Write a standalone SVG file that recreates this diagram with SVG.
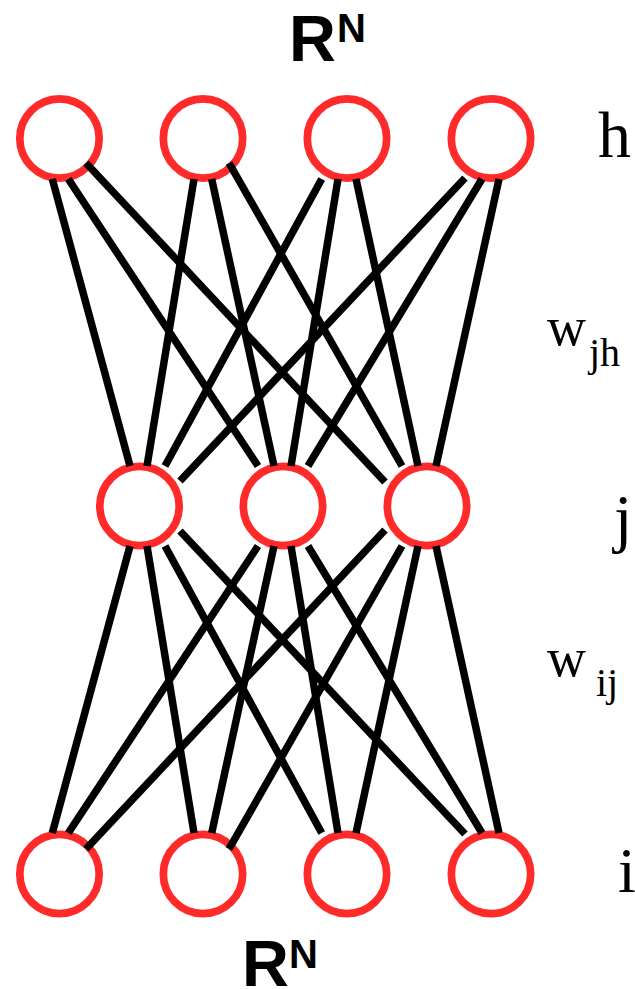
<svg xmlns="http://www.w3.org/2000/svg" width="635" height="989" viewBox="0 0 635 989">
<style>
.node{fill:#ffffff;stroke:#ff2b2b;stroke-width:7.7}
.edge{stroke:#000000;stroke-width:7.5;stroke-linecap:butt;fill:none}
.rn{font-family:"Liberation Sans",Arial,sans-serif;font-weight:bold;fill:#000}
.lbl{font-family:"Liberation Serif","Times New Roman",serif;fill:#000}
</style>
<rect width="635" height="989" fill="#ffffff"/>
<g id="title-top"><text class="rn" x="289" y="61" font-size="65">R</text><text class="rn" x="337" y="42" font-size="40">N</text></g>
<g id="title-bottom"><text class="rn" x="242" y="986" font-size="65">R</text><text class="rn" x="289" y="968" font-size="40">N</text></g>
<g id="h1"><circle class="node" cx="59.5" cy="138.5" r="39.7"/></g>
<g id="h2"><circle class="node" cx="203" cy="138.5" r="39.7"/></g>
<g id="h3"><circle class="node" cx="347" cy="138.5" r="39.7"/></g>
<g id="h4"><circle class="node" cx="491" cy="138.5" r="39.7"/></g>
<g id="j1"><circle class="node" cx="139.5" cy="506" r="39.7"/></g>
<g id="j2"><circle class="node" cx="283" cy="506" r="39.7"/></g>
<g id="j3"><circle class="node" cx="427" cy="506" r="39.7"/></g>
<g id="i1"><circle class="node" cx="59.5" cy="874" r="39.7"/></g>
<g id="i2"><circle class="node" cx="203" cy="874" r="39.7"/></g>
<g id="i3"><circle class="node" cx="347" cy="874" r="39.7"/></g>
<g id="i4"><circle class="node" cx="491" cy="874" r="39.7"/></g>
<g id="connectors">
<line class="edge" x1="52.3" y1="179" x2="130" y2="466"/>
<line class="edge" x1="68.3" y1="179" x2="258" y2="466"/>
<line class="edge" x1="86" y1="163" x2="385" y2="482"/>
<line class="edge" x1="194" y1="179" x2="147" y2="466"/>
<line class="edge" x1="211.7" y1="179" x2="274" y2="466"/>
<line class="edge" x1="229" y1="163" x2="402" y2="466"/>
<line class="edge" x1="321.7" y1="179" x2="165" y2="466"/>
<line class="edge" x1="338" y1="179" x2="291" y2="466"/>
<line class="edge" x1="356" y1="179" x2="418" y2="466"/>
<line class="edge" x1="465" y1="178" x2="180" y2="481"/>
<line class="edge" x1="482" y1="179" x2="308" y2="466"/>
<line class="edge" x1="499" y1="179" x2="436" y2="466"/>
<line class="edge" x1="52.3" y1="833" x2="130" y2="546"/>
<line class="edge" x1="68.3" y1="833" x2="258" y2="546"/>
<line class="edge" x1="86" y1="849" x2="385" y2="530"/>
<line class="edge" x1="194" y1="833" x2="147" y2="546"/>
<line class="edge" x1="211.7" y1="833" x2="274" y2="546"/>
<line class="edge" x1="229" y1="849" x2="402" y2="546"/>
<line class="edge" x1="321.7" y1="833" x2="165" y2="546"/>
<line class="edge" x1="338" y1="833" x2="291" y2="546"/>
<line class="edge" x1="356" y1="833" x2="418" y2="546"/>
<line class="edge" x1="465" y1="834" x2="180" y2="531"/>
<line class="edge" x1="482" y1="833" x2="308" y2="546"/>
<line class="edge" x1="499" y1="833" x2="436" y2="546"/>
</g>
<g id="label-h"><text class="lbl" x="598" y="157" font-size="66">h</text></g>
<g id="label-wjh"><text class="lbl" x="547" y="345" font-size="54">w</text><text class="lbl" x="589" y="366" font-size="40">jh</text></g>
<g id="label-j"><text class="lbl" x="614" y="540" font-size="66">j</text></g>
<g id="label-wij"><text class="lbl" x="547" y="676" font-size="54">w</text><text class="lbl" x="596" y="696" font-size="40">ij</text></g>
<g id="label-i"><text class="lbl" x="618" y="892" font-size="64">i</text></g>
</svg>
